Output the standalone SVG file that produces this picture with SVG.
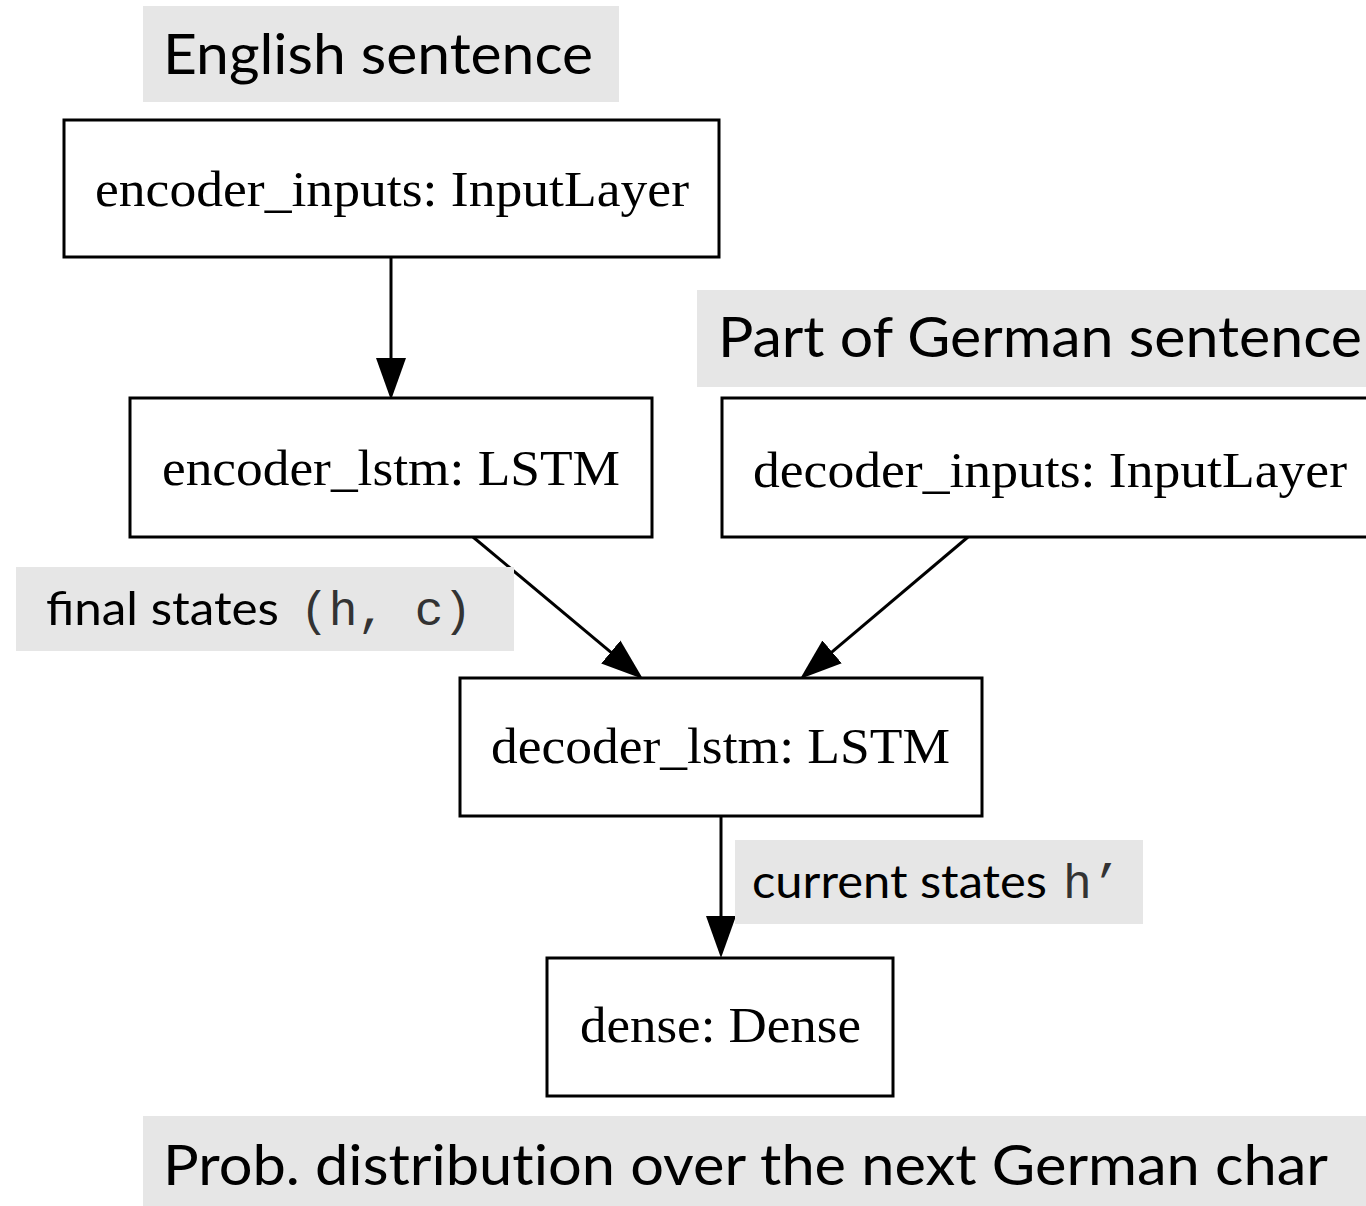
<svg xmlns="http://www.w3.org/2000/svg" width="1366" height="1206" viewBox="0 0 1366 1206">
<style>
.box{fill:#fff;stroke:#000;stroke-width:3}
.nt{font-family:"Liberation Serif","Times New Roman",serif;font-size:51px;fill:#000;text-anchor:middle}
.edge{stroke:#000;stroke-width:3;fill:none}
.lbg{fill:#e6e6e6}
.lt{font-family:Lato,"Noto Sans","Liberation Sans",sans-serif;fill:#000}
.nolig{font-variant-ligatures:none;font-feature-settings:"liga" 0,"dlig" 0}
.mono{font-family:"Liberation Mono","Courier New",monospace;fill:#333}
</style>
<defs>
<marker id="ah" markerUnits="userSpaceOnUse" viewBox="0 0 42 32" refX="12" refY="16" markerWidth="42" markerHeight="32" orient="auto">
<path d="M0,1 L42,16 L0,31 Z" fill="#000"/>
</marker>
</defs>
<rect width="1366" height="1206" fill="#fff"/>
<g id="connectors">
<line class="edge" x1="391" y1="257" x2="391" y2="370" marker-end="url(#ah)"/>
<line class="edge" x1="473" y1="537" x2="620" y2="659.8" marker-end="url(#ah)"/>
<line class="edge" x1="968" y1="537" x2="822.9" y2="659.6" marker-end="url(#ah)"/>
<line class="edge" x1="721" y1="816" x2="721" y2="928" marker-end="url(#ah)"/>
</g>
<g id="encoder_inputs">
<rect class="box" x="64" y="120" width="655" height="137"/>
<text class="nt" x="392" y="206" textLength="594" lengthAdjust="spacingAndGlyphs">encoder_inputs: InputLayer</text>
</g>
<g id="encoder_lstm">
<rect class="box" x="130" y="398" width="522" height="139"/>
<text class="nt" x="391" y="485" textLength="458" lengthAdjust="spacingAndGlyphs">encoder_lstm: LSTM</text>
</g>
<g id="decoder_inputs">
<rect class="box" x="722" y="398" width="700" height="139"/>
<text class="nt" x="1050" y="487" textLength="594" lengthAdjust="spacingAndGlyphs">decoder_inputs: InputLayer</text>
</g>
<g id="decoder_lstm">
<rect class="box" x="460" y="678" width="522" height="138"/>
<text class="nt" x="720.5" y="763" textLength="459" lengthAdjust="spacingAndGlyphs">decoder_lstm: LSTM</text>
</g>
<g id="dense">
<rect class="box" x="547" y="958" width="346" height="138"/>
<text class="nt" x="720.5" y="1042" textLength="281" lengthAdjust="spacingAndGlyphs">dense: Dense</text>
</g>
<g id="label_english">
<rect class="lbg" x="143" y="6" width="476" height="96"/>
<text class="lt" x="163" y="74" font-size="57" textLength="430" lengthAdjust="spacingAndGlyphs">English sentence</text>
</g>
<g id="label_german">
<rect class="lbg" x="697" y="290" width="669" height="97"/>
<text class="lt" x="718" y="357" font-size="57" textLength="644" lengthAdjust="spacingAndGlyphs">Part of German sentence</text>
</g>
<g id="label_final">
<rect class="lbg" x="16" y="567" width="498" height="84"/>
<text class="lt" x="46" y="625" font-size="47" textLength="233" lengthAdjust="spacingAndGlyphs">final states</text>
<text class="mono" x="300" y="625" font-size="48" textLength="172" lengthAdjust="spacingAndGlyphs">(h, c)</text>
</g>
<g id="label_current">
<rect class="lbg" x="735" y="840" width="408" height="84"/>
<text class="lt" x="752" y="898" font-size="47" textLength="295" lengthAdjust="spacingAndGlyphs">current states</text>
<text class="mono" x="1063" y="898" font-size="48">h’</text>
</g>
<g id="label_prob">
<rect class="lbg" x="143" y="1116" width="1223" height="90"/>
<text class="lt nolig" x="163" y="1185" font-size="57" textLength="1165" lengthAdjust="spacingAndGlyphs">Prob. distribution over the next German char</text>
</g>
</svg>
